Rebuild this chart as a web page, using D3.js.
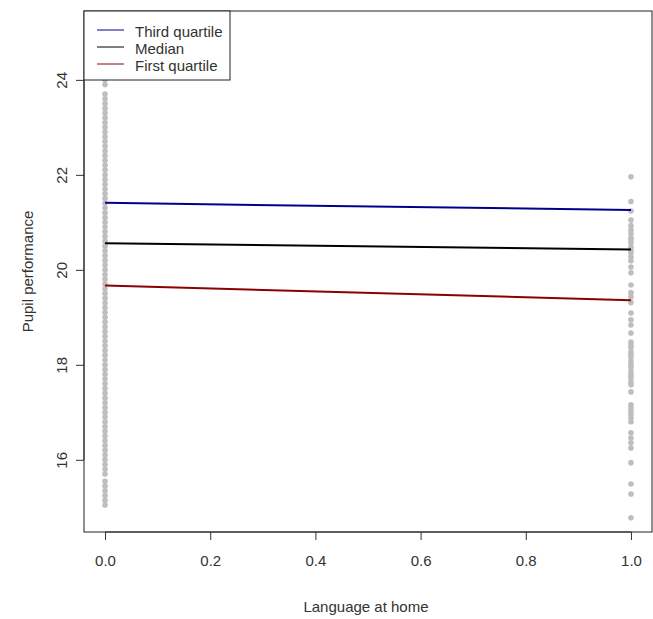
<!DOCTYPE html>
<html>
<head>
<meta charset="utf-8">
<script src="https://cdn.jsdelivr.net/npm/d3@7"></script>
<style>
  body { margin: 0; background: #fff; }
  text { font-family: "Liberation Sans", Arial, sans-serif; fill: #333; }
</style>
</head>
<body>
<svg id="chart" width="653" height="619"></svg>
<script>
// pupil scores for language at home = 0 (dense column)
const scoresLang0 = [
    24.0, 23.9, 23.7, 23.6, 23.5, 23.4, 23.3, 23.2, 23.1, 23.0,
    22.9, 22.8, 22.7, 22.6, 22.5, 22.4, 22.3, 22.2, 22.1, 22.0,
    21.9, 21.8, 21.7, 21.6, 21.5, 21.4, 21.3, 21.2, 21.1, 21.0,
    20.9, 20.8, 20.7, 20.6, 20.5, 20.4, 20.3, 20.2, 20.1, 20.0,
    19.9, 19.8, 19.7, 19.6, 19.5, 19.4, 19.3, 19.2, 19.1, 19.0,
    18.9, 18.8, 18.7, 18.6, 18.5, 18.4, 18.3, 18.2, 18.1, 18.0,
    17.9, 17.8, 17.7, 17.6, 17.5, 17.4, 17.3, 17.2, 17.1, 17.0,
    16.9, 16.8, 16.7, 16.6, 16.5, 16.4, 16.3, 16.2, 16.1, 16.0,
    15.9, 15.8, 15.7, 15.55, 15.45, 15.35, 15.25, 15.15, 15.05,
];

// pupil scores for language at home = 1 (sparse column)
const scoresLang1 = [
    21.96, 21.44, 21.24, 21.05, 20.93, 20.84, 20.76, 20.67, 20.63, 20.57,
    20.48, 20.42, 20.36, 20.27, 20.19, 20.06, 19.94, 19.68, 19.52, 19.43,
    19.31, 19.09, 18.95, 18.84, 18.67, 18.48, 18.42, 18.36, 18.27, 18.21,
    18.15, 18.06, 18.0, 17.94, 17.85, 17.79, 17.73, 17.64, 17.58, 17.43,
    17.16, 17.09, 17.01, 16.95, 16.88, 16.8, 16.57, 16.46, 16.36, 16.25,
    15.94, 15.49, 15.28, 14.78,
];

// quantile regression lines, values at x = 0 and x = 1
const lineNames = ['Third quartile', 'Median', 'First quartile'];
const lineColors = ['#00008b', '#000000', '#8b0000'];
const lineStart = [21.41, 20.56, 19.67];
const lineEnd = [21.26, 20.43, 19.36];

const xTicks = [0, 0.2, 0.4, 0.6, 0.8, 1.0];
const yTicks = [16, 18, 20, 22, 24];

const plotLeft = 84;
const plotRight = 652;
const plotTop = 11;
const plotBottom = 532;
const fontSize = '15px';

const svg = d3.select('#chart');

const x = d3.scaleLinear().domain([-0.04, 1.04]).range([plotLeft, plotRight]);
const y = d3.scaleLinear().domain([14.48, 25.45]).range([plotBottom, plotTop]);

// points
const pts = scoresLang0.map((v) => [0, v]).concat(scoresLang1.map((v) => [1, v]));
svg.append('g')
    .selectAll('circle')
    .data(pts)
    .join('circle')
    .attr('cx', (d) => x(d[0]))
    .attr('cy', (d) => y(d[1]))
    .attr('r', 2.8)
    .attr('fill', '#bebebe');

// regression lines
lineNames.forEach((name, i) => {
    svg.append('line')
        .attr('x1', x(0))
        .attr('y1', y(lineStart[i]))
        .attr('x2', x(1))
        .attr('y2', y(lineEnd[i]))
        .attr('stroke', lineColors[i])
        .attr('stroke-width', 2);
});

// x axis
const xAxis = svg.append('g')
    .attr('transform', `translate(0,${plotBottom})`)
    .call(d3.axisBottom(x).tickValues(xTicks).tickFormat(d3.format('.1f')).tickSize(8).tickPadding(15));
xAxis.select('.domain').attr('d', `M${x(0)},0H${x(1)}`).attr('stroke', '#333');
xAxis.selectAll('.tick line').attr('stroke', '#333');
xAxis.selectAll('.tick text')
    .style('font-size', fontSize)
    .style('font-family', '"Liberation Sans", Arial, sans-serif')
    .attr('fill', '#333');

// y axis
const yAxis = svg.append('g')
    .attr('transform', `translate(${plotLeft},0)`)
    .call(d3.axisLeft(y).tickValues(yTicks).tickSize(8).tickFormat(d3.format('d')));
yAxis.select('.domain').attr('d', `M0,${y(16)}V${y(24)}`).attr('stroke', '#333');
yAxis.selectAll('.tick line').attr('stroke', '#333');
yAxis.selectAll('.tick text')
    .attr('x', null)
    .attr('dy', null)
    .attr('transform', 'translate(-23,0) rotate(-90)')
    .attr('text-anchor', 'middle')
    .attr('dominant-baseline', 'central')
    .style('font-size', fontSize)
    .style('font-family', '"Liberation Sans", Arial, sans-serif')
    .attr('fill', '#333');

// frame
svg.append('rect')
    .attr('x', plotLeft)
    .attr('y', plotTop)
    .attr('width', plotRight - plotLeft)
    .attr('height', plotBottom - plotTop)
    .attr('fill', 'none')
    .attr('stroke', '#222')
    .attr('stroke-width', 1);

// axis titles
svg.append('text')
    .attr('x', (plotLeft + plotRight) / 2 - 2)
    .attr('y', 606)
    .attr('text-anchor', 'middle')
    .attr('dominant-baseline', 'central')
    .style('font-size', fontSize)
    .text('Language at home');

svg.append('text')
    .attr('transform', `translate(27,${(plotTop + plotBottom) / 2}) rotate(-90)`)
    .attr('text-anchor', 'middle')
    .attr('dominant-baseline', 'central')
    .style('font-size', fontSize)
    .text('Pupil performance');

// legend
const legend = svg.append('g');
legend.append('rect')
    .attr('x', plotLeft)
    .attr('y', plotTop)
    .attr('width', 146)
    .attr('height', 69)
    .attr('fill', '#fff')
    .attr('stroke', '#222');

lineNames.forEach((name, i) => {
    const ly = 30 + i * 17;
    legend.append('line')
        .attr('x1', 97)
        .attr('x2', 124)
        .attr('y1', ly)
        .attr('y2', ly)
        .attr('stroke', lineColors[i])
        .attr('stroke-width', 1);
    legend.append('text')
        .attr('x', 135)
        .attr('y', ly + 1)
        .attr('dominant-baseline', 'central')
        .style('font-size', fontSize)
        .text(name);
});
</script>
</body>
</html>
